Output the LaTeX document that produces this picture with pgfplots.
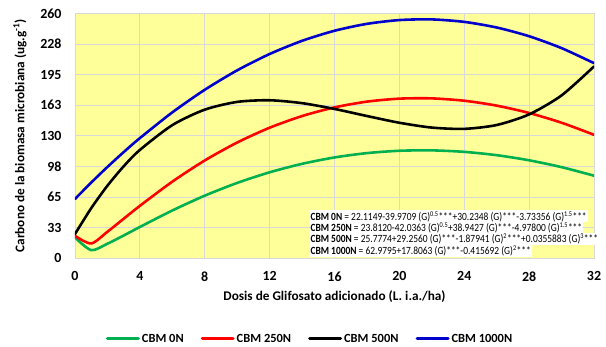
\documentclass[border=0pt]{standalone}
\usepackage{pgfplots}
\pgfplotsset{compat=1.18}
\usepackage{fontspec}
\setmainfont{Carlito}
\usepackage{graphicx}

\definecolor{plotbg}{HTML}{FFFF99}
\definecolor{gridgray}{HTML}{D9D9D9}
\definecolor{cbmgreen}{HTML}{00B050}
\definecolor{cbmred}{HTML}{FF0000}
\definecolor{cbmblack}{HTML}{000000}
\definecolor{cbmblue}{HTML}{0000CC}

\newcommand{\eqline}[1]{\scalebox{0.79}[0.92]{#1}}

\begin{document}
\begin{tikzpicture}
\path[use as bounding box] (-75bp,-88.7bp) rectangle (531bp,258.3bp);
\begin{axis}[
  at={(0,0)}, anchor=south west,
  scale only axis,
  width=519bp, height=245bp,
  xmin=0, xmax=32, ymin=0, ymax=260,
  xtick={0,4,...,32},
  ytick={0,32.5,65,97.5,130,162.5,195,227.5,260},
  yticklabels={0,33,65,98,130,163,195,228,260},
  major tick length=0pt,
  grid=major,
  grid style={draw=gridgray, line width=0.8pt},
  axis line style={draw=gridgray, line width=0.8pt},
  axis background/.style={fill=plotbg},
  /pgf/number format/assume math mode=true,
  ticklabel style={font=\fontsize{14}{16}\selectfont\bfseries},
  xticklabel style={yshift=-10bp},
  yticklabel style={xshift=-10bp},
  xlabel={Dosis de Glifosato adicionado (L. i.a./ha)},
  ylabel={Carbono de la biomasa microbiana (ug.g\textsuperscript{-1})},
  label style={font=\fontsize{13.3}{15}\selectfont\bfseries},
  xlabel style={at={([yshift=-38bp]axis description cs:0.5,0)}, anchor=center},
  ylabel style={at={([xshift=-55bp]axis description cs:0,0.5)}, anchor=center},
  legend columns=4,
  legend style={at={(0.453,-0.329)}, anchor=center, draw=none, fill=none,
    font=\fontsize{12.5}{14}\selectfont\bfseries,
    /tikz/every odd column/.append style={column sep=0bp},
    /tikz/every even column/.append style={column sep=15bp}},
  legend image code/.code={\draw[#1, line width=3pt] (0bp,0bp) -- (31bp,0bp);},
  every axis plot/.append style={line width=2.6pt, smooth, tension=0.45, line join=round, line cap=round},
  clip mode=individual,
]
\addplot[cbmgreen] coordinates {
 (0,22.115) (1,8.645) (2,15.498) (3,24.187) (4,33.244) (6,50.744) (8,66.457)
 (10,79.998) (12,91.269) (14,100.267) (16,107.040) (18,111.636) (20,114.116)
 (22,114.539) (24,112.956) (26,109.431) (28,104.011) (30,96.741) (32,87.676)};
\addlegendentry{CBM 0N}
\addplot[cbmred] coordinates {
 (0,23.812) (1,15.741) (2,28.169) (3,41.965) (4,55.686) (6,81.339) (8,103.818)
 (10,122.891) (12,138.575) (14,150.961) (16,160.158) (18,166.279) (20,169.428)
 (22,169.708) (24,167.209) (26,162.020) (28,154.223) (30,143.881) (32,131.072)};
\addlegendentry{CBM 250N}
\addplot[cbmblack] coordinates {
 (0,25.777) (1,53.190) (2,77.056) (3,97.591) (4,115.008) (6,141.341) (8,157.764)
 (10,165.984) (12,167.711) (14,164.652) (16,158.514) (18,151.005) (20,143.839)
 (22,138.718) (24,137.353) (26,141.450) (28,152.724) (30,172.872) (32,203.610)};
\addlegendentry{CBM 500N}
\addplot[cbmblue] coordinates {
 (0,62.980) (1,80.370) (2,96.930) (3,112.658) (4,127.554) (6,154.853) (8,178.826)
 (10,199.474) (12,216.796) (14,230.792) (16,241.464) (18,248.809) (20,252.829)
 (22,253.524) (24,250.892) (26,244.936) (28,235.653) (30,223.046) (32,207.113)};
\addlegendentry{CBM 1000N}

% fitted regression equations, one white-backed line each
\begin{scope}[every node/.style={anchor=base west, fill=white, inner xsep=1bp,
    inner ysep=0.8bp, font=\fontsize{12}{13}\selectfont}]
\node at (axis cs:14.45,40.6) {\eqline{\textbf{CBM 0N} = 22.1149-39.9709 (G)\textsuperscript{0.5}***+30.2348 (G)***-3.73356 (G)\textsuperscript{1.5}***}};
\node at (axis cs:14.45,28.2) {\eqline{\textbf{CBM 250N} = 23.8120-42.0363 (G)\textsuperscript{0.5}+38.9427 (G)***-4.97800 (G)\textsuperscript{1.5}***}};
\node at (axis cs:14.45,16.6) {\eqline{\textbf{CBM 500N} = 25.7774+29.2560 (G)***-1.87941 (G)\textsuperscript{2}***+0.0355883 (G)\textsuperscript{3}***}};
\node at (axis cs:14.45,4.2) {\eqline{\textbf{CBM 1000N} = 62.9795+17.8063 (G)***-0.415692 (G)\textsuperscript{2}***}};
\end{scope}
\end{axis}
\end{tikzpicture}
\end{document}
